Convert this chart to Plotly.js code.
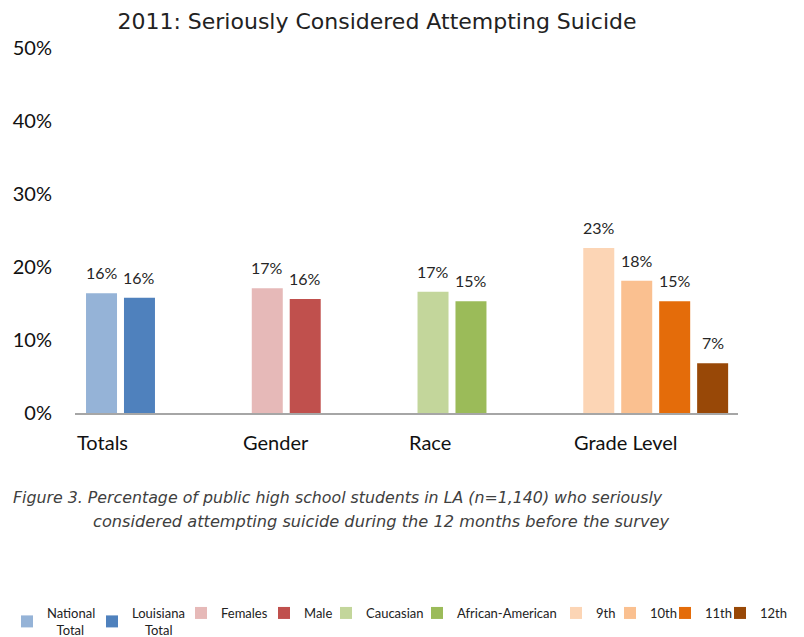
<!DOCTYPE html>
<html>
<head>
<meta charset="utf-8">
<script src="https://cdn.plot.ly/plotly-3.0.1.min.js"></script>
<style>
  html, body { margin: 0; padding: 0; background: #fff; }
  #chart { width: 804px; height: 637px; }
</style>
</head>
<body>
<div id="chart"></div>
<script>
// ---- data ----
const seriesNames = ['National<br>&nbsp;&nbsp;&nbsp;Total', 'Louisiana<br>&nbsp;&nbsp;&nbsp;&nbsp;Total', 'Females', 'Male', 'Caucasian', 'African-American', '9th', '10th', '11th', '12th'];
const seriesValues = [16.4, 15.8, 17.1, 15.6, 16.6, 15.3, 22.6, 18.1, 15.3, 6.8];
const seriesGroup = [0, 0, 1, 1, 2, 2, 3, 3, 3, 3];
const groupLabels = ['Totals', 'Gender', 'Race', 'Grade Level'];
const yTickValues = [0, 10, 20, 30, 40, 50];
const chartTitle = '2011: Seriously Considered Attempting Suicide';
const captionLines = [
  'Figure 3. Percentage of public high school students in LA (n=1,140) who seriously',
  'considered attempting suicide during the 12 months before the survey'
];

// ---- styles / layout ----
const seriesColors = ['#95B3D7', '#4F81BD', '#E6B9B8', '#C0504D', '#C3D69B', '#9BBB59', '#FCD5B5', '#FAC090', '#E46C0A', '#984807'];
const legendTextLeftPx = [46, 131, 220, 303, 365, 456, 595, 649, 704, 759]; // legend entry text start (px)
const M = { l: 75, r: 66, t: 48, b: 224 };
const W = 804, H = 637;
const plotW = W - M.l - M.r, plotH = H - M.t - M.b;
const BAR_W = 0.187;   // bar width in category units
const PITCH = 0.229;   // distance between bars within a category
const OFFSET = 0.16;   // first bar centre from category left edge
const FONT = 'Lato, "Open Sans", sans-serif';
const pxToPaperX = px => (px - M.l) / plotW;
const pxToPaperY = py => (H - M.b - py) / plotH;

// position of each bar inside its category
const idxInGroup = [];
const counter = {};
seriesGroup.forEach(g => { counter[g] = (counter[g] || 0); idxInGroup.push(counter[g]); counter[g]++; });
const xPos = seriesGroup.map((g, i) => g + OFFSET + idxInGroup[i] * PITCH);

const legendId = i => (i === 0 ? 'legend' : 'legend' + (i + 1));

const traces = seriesNames.map((name, i) => ({
  type: 'bar',
  name: name,
  x: [xPos[i]],
  y: [seriesValues[i]],
  width: [BAR_W],
  legend: legendId(i),
  marker: { color: seriesColors[i], line: { width: 0 } },
  hoverinfo: 'y'
}));

const annotations = [];
// value labels
seriesValues.forEach((v, i) => {
  annotations.push({
    x: xPos[i], y: v, xref: 'x', yref: 'y',
    text: Math.round(v) + '%',
    showarrow: false, yanchor: 'bottom', yshift: 9,
    font: { family: FONT, size: 16, color: '#262626' }
  });
});
// group labels (left aligned at category start)
groupLabels.forEach((g, i) => {
  annotations.push({
    x: i, y: pxToPaperY(442), xref: 'x', yref: 'paper',
    text: g, showarrow: false, xanchor: 'left', yanchor: 'middle',
    font: { family: FONT, size: 20, color: '#111' }
  });
});
// caption
const captionFont1 = { family: '"DejaVu Sans", sans-serif', size: 15.8, color: '#404040', style: 'italic' };
const captionFont2 = { family: '"DejaVu Sans", sans-serif', size: 16.2, color: '#404040', style: 'italic' };
annotations.push({
  x: pxToPaperX(11), y: pxToPaperY(497), xref: 'paper', yref: 'paper', xanchor: 'left', yanchor: 'middle',
  text: captionLines[0], showarrow: false, font: captionFont1
});
annotations.push({
  x: pxToPaperX(91), y: pxToPaperY(521), xref: 'paper', yref: 'paper', xanchor: 'left', yanchor: 'middle',
  text: captionLines[1], showarrow: false, font: captionFont2
});

const layout = {
  width: W, height: H,
  margin: { l: M.l, r: M.r, t: M.t, b: M.b, autoexpand: false },
  paper_bgcolor: '#fff', plot_bgcolor: '#fff',
  barmode: 'overlay',
  showlegend: true,
  title: {
    text: chartTitle,
    x: 377 / W, xanchor: 'center', y: 1 - 21 / H, yanchor: 'middle',
    font: { family: '"DejaVu Sans", sans-serif', size: 22, color: '#222' }
  },
  xaxis: {
    range: [0, groupLabels.length],
    showline: true, linecolor: '#A6A6A6', linewidth: 2,
    showgrid: false, zeroline: false, showticklabels: false, ticks: '',
    fixedrange: true
  },
  yaxis: {
    range: [0, 50], tickmode: 'array', tickvals: yTickValues,
    ticktext: yTickValues.map(v => v + '%'),
    showgrid: false, zeroline: false, showline: false,
    ticks: 'outside', ticklen: 18, tickcolor: 'rgba(0,0,0,0)',
    tickfont: { family: FONT, size: 20, color: '#111' },
    fixedrange: true
  },
  annotations: annotations
};

seriesNames.forEach((n, i) => {
  layout[legendId(i)] = {
    orientation: 'h',
    x: pxToPaperX(legendTextLeftPx[i] - 39), xanchor: 'left',
    y: pxToPaperY(598), yanchor: 'top',
    bgcolor: 'rgba(0,0,0,0)',
    font: { family: FONT, size: 13, color: '#222' },
    itemclick: false, itemdoubleclick: false
  };
});

Plotly.newPlot('chart', traces, layout, { displayModeBar: false, staticPlot: true });
</script>
</body>
</html>
